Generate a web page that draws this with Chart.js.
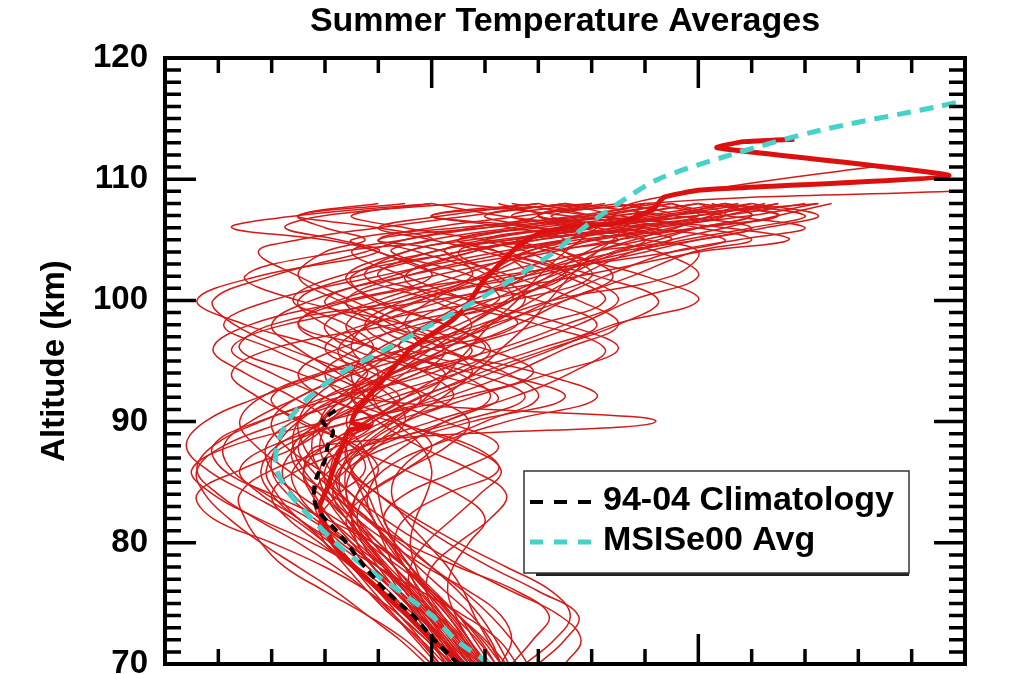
<!DOCTYPE html>
<html>
<head>
<meta charset="utf-8">
<title>Summer Temperature Averages</title>
<script src="https://cdn.jsdelivr.net/npm/chart.js@4.4.1/dist/chart.umd.min.js"></script>
<style>
  html, body { margin: 0; padding: 0; background: #fff; }
  #wrap { width: 1016px; height: 674px; }
</style>
</head>
<body>
<div id="wrap"><canvas id="tempChart"></canvas></div>
<script>
// altitude grid (km) for the individual nightly profiles
const altGrid = [70, 72, 74, 76, 78, 80, 82, 84, 86, 88, 90, 92, 94, 96, 98, 100, 102, 104, 105, 106, 107, 108, 109, 110, 111];

// temperatures (K) of each night, one row per profile
const nightlyTemps = [
  [212, 205, 196, 186, 176, 168, 158, 150, 148, 160, 182, 196, 178, 160, 175, 220, 250, 236, 220, 250, 300, 330],
  [222, 216, 210, 200, 188, 176, 170, 172, 180, 172, 150, 140, 160, 200, 232, 214, 180, 200, 230, 280, 250, 210],
  [205, 196, 185, 176, 168, 160, 150, 136, 128, 140, 170, 210, 238, 220, 180, 160, 190, 240, 270, 240, 200, 260],
  [230, 238, 244, 232, 210, 190, 176, 165, 155, 150, 158, 170, 150, 128, 140, 190, 230, 270, 300, 320, 290, 250],
  [218, 210, 200, 195, 190, 178, 160, 140, 122, 118, 135, 165, 200, 215, 190, 150, 130, 165, 200, 180, 150, 190],
  [210, 200, 192, 184, 172, 155, 135, 118, 110, 125, 160, 190, 205, 180, 150, 170, 225, 290, 310, 280, 240, 280],
  [226, 222, 215, 205, 195, 186, 180, 176, 170, 185, 215, 250, 225, 190, 175, 190, 215, 205, 180, 220, 270, 300],
  [200, 190, 176, 160, 145, 136, 130, 128, 140, 165, 178, 160, 140, 125, 145, 200, 255, 300, 334, 310, 260, 230],
  [215, 212, 206, 198, 192, 185, 175, 162, 150, 148, 160, 180, 210, 240, 262, 240, 205, 180, 170, 210, 260, 290],
  [240, 250, 255, 240, 222, 206, 192, 180, 170, 168, 178, 195, 215, 205, 180, 168, 190, 230, 250, 280, 320, 345],
  [208, 198, 188, 180, 170, 160, 158, 165, 175, 170, 152, 135, 125, 140, 185, 230, 260, 245, 220, 190, 170, 200],
  [214, 207, 200, 192, 186, 182, 178, 170, 158, 145, 140, 150, 172, 200, 215, 200, 175, 190, 215, 250, 290, 270],
  [220, 212, 202, 192, 180, 168, 156, 146, 140, 142, 150, 165, 190, 225, 250, 270, 255, 225, 210, 240, 280, 310],
  [205, 200, 194, 188, 182, 176, 168, 160, 152, 148, 150, 160, 176, 160, 130, 112, 135, 180, 165, 145, 160, 210],
  [232, 225, 212, 196, 180, 166, 158, 156, 162, 175, 200, 230, 252, 265, 240, 205, 190, 215, 240, 270, 310, 340],
  [198, 188, 176, 164, 150, 136, 124, 115, 112, 122, 145, 170, 180, 165, 150, 165, 200, 245, 270, 300, 330, 300],
  [216, 208, 198, 188, 178, 172, 170, 172, 178, 190, 205, 225, 200, 170, 160, 180, 210, 235, 250, 230, 200, 240],
  [224, 218, 210, 200, 190, 180, 172, 164, 158, 152, 150, 156, 170, 190, 218, 245, 290, 300, 280, 255, 230, 260],
  [210, 203, 196, 190, 182, 172, 162, 155, 152, 160, 175, 188, 170, 146, 126, 118, 140, 175, 190, 215, 240, 225],
  [228, 220, 210, 200, 192, 186, 182, 180, 178, 174, 168, 175, 195, 220, 205, 178, 170, 200, 225, 260, 245, 280],
  [212, 206, 198, 190, 180, 168, 154, 138, 125, 122, 132, 150, 168, 185, 198, 215, 240, 280, 300, 325, 345, 320],
  [219, 213, 206, 198, 190, 184, 176, 166, 165, 180, 205, 222, 210, 188, 198, 230, 222, 195, 180, 200, 235, 265],
  [235, 246, 252, 245, 228, 210, 194, 180, 168, 160, 158, 165, 180, 196, 185, 165, 150, 160, 175, 160, 150, 180],
  [206, 198, 188, 176, 160, 140, 118, 112, 128, 150, 160, 148, 130, 118, 132, 168, 200, 180, 160, 125, 150, 200],
  [217, 210, 202, 194, 186, 178, 170, 164, 162, 166, 178, 196, 218, 244, 270, 285, 262, 230, 250, 275, 300, 290],
  [202, 194, 186, 178, 170, 160, 148, 132, 116, 108, 115, 135, 160, 178, 168, 148, 165, 210, 235, 260, 300, 320],
  [221, 214, 207, 199, 190, 180, 170, 162, 160, 168, 186, 208, 198, 178, 168, 185, 220, 260, 290, 270, 240, 260],
  [213, 204, 194, 182, 170, 162, 158, 160, 168, 180, 190, 185, 172, 165, 178, 205, 235, 225, 210, 235, 270, 300],
  [210, 204, 196, 188, 178, 170, 162, 156, 152, 158, 284, 170, 160, 172, 190, 210, 235, 260, 280, 300, 320, 310],
  [250, 256, 248, 230, 212, 196, 182, 170, 162, 158, 162, 172, 186, 200, 214, 228, 244, 258, 270, 290, 310, 330],
  [203, 195, 186, 176, 164, 150, 134, 120, 112, 118, 136, 160, 186, 210, 232, 250, 268, 250, 232, 258, 290, 345],
  [226, 230, 226, 214, 198, 184, 172, 166, 166, 172, 184, 200, 222, 246, 268, 300, 280, 250, 262, 300, 330, 310],
  [216, 209, 201, 193, 184, 176, 168, 158, 146, 134, 128, 136, 158, 190, 222, 250, 275, 298, 320, 300, 270, 250],
  [209, 203, 195, 186, 176, 164, 150, 140, 136, 142, 160, 186, 210, 222, 205, 180, 168, 190, 210, 235, 265, 290],
  [214, 206, 199, 191, 183, 175, 168, 163, 166, 174, 186, 198, 206, 214, 222, 232, 240, 250, 256, 262, 268, 275, 300, 330, 365],
  [219, 211, 203, 195, 186, 178, 172, 168, 170, 178, 190, 204, 216, 226, 236, 244, 252, 262, 268, 272, 276, 280, 395],
  [218, 212, 204, 196, 190, 186, 190, 205, 225, 215, 185, 160, 150, 165, 195, 225, 215, 185, 200, 230, 260, 280],
  [207, 199, 190, 180, 170, 158, 146, 140, 150, 175, 210, 235, 215, 180, 160, 150, 172, 210, 240, 275, 305, 290],
  [224, 217, 208, 199, 190, 183, 178, 176, 182, 200, 228, 262, 240, 200, 180, 195, 235, 275, 295, 320, 340, 310],
  [211, 205, 198, 190, 182, 174, 166, 160, 158, 164, 176, 190, 206, 230, 255, 275, 300, 285, 260, 240, 220, 250],
  [229, 224, 218, 210, 200, 190, 182, 190, 210, 225, 205, 180, 165, 150, 140, 155, 185, 215, 235, 255, 225, 200],
  [203, 196, 188, 180, 172, 162, 150, 142, 138, 145, 170, 205, 230, 250, 270, 255, 230, 205, 220, 250, 285, 315],
  [215, 208, 200, 192, 182, 170, 158, 148, 144, 150, 162, 175, 160, 140, 122, 140, 180, 225, 255, 285, 260, 240],
  [236, 230, 222, 212, 200, 188, 176, 166, 158, 155, 158, 168, 185, 210, 240, 265, 250, 220, 200, 180, 205, 240],
  [208, 201, 194, 187, 180, 174, 170, 168, 168, 175, 190, 215, 245, 270, 250, 215, 190, 170, 190, 220, 255, 285],
  [220, 214, 208, 200, 190, 178, 164, 150, 140, 138, 148, 168, 195, 205, 190, 170, 150, 135, 150, 180, 215, 250],
  [212, 204, 195, 186, 178, 172, 168, 176, 190, 200, 188, 170, 180, 200, 225, 245, 265, 290, 315, 340, 310, 280],
  [226, 219, 210, 201, 192, 184, 178, 174, 170, 168, 170, 178, 190, 205, 222, 238, 255, 275, 290, 310, 330, 350],
  [214, 208, 202, 198, 200, 210, 222, 228, 215, 195, 180, 170, 175, 190, 210, 230, 250, 270, 285, 300, 320, 305],
  [220, 214, 209, 206, 208, 214, 220, 210, 190, 170, 160, 168, 185, 205, 220, 235, 225, 210, 230, 260, 290, 320],
  [209, 202, 196, 192, 192, 198, 208, 218, 226, 212, 188, 175, 170, 180, 200, 222, 245, 268, 280, 262, 240, 270],
  [226, 221, 216, 212, 206, 198, 190, 185, 188, 200, 220, 240, 228, 205, 190, 200, 220, 240, 260, 285, 310, 300],
  [211, 204, 197, 190, 183, 176, 172, 176, 190, 206, 214, 200, 182, 170, 176, 196, 218, 236, 250, 268, 290, 310],
  [216, 210, 204, 198, 194, 192, 194, 198, 200, 196, 186, 178, 182, 196, 214, 230, 248, 262, 276, 292, 305, 325]
];

// summer average of this data set (thick red)
const meanAlt  = [70, 72, 74, 76, 78, 80, 81.5, 83, 84.6, 86, 87.7, 89.3, 89.6, 89.9, 91, 94, 96, 98.4, 99.5, 101.5, 103.1, 104.4, 105.6, 106.1, 106.4, 107.5, 108.5, 109.1, 110.3, 112.6, 113.1, 113.3];
const meanTemp = [212, 200, 191, 181, 171, 163, 160, 158, 161, 163, 166, 169, 177, 170, 172, 184, 192, 208, 213, 219, 226, 232, 241, 253, 270, 283, 287, 301, 394, 307, 317, 336];

// 94-04 Climatology (black dashed)
const climAlt  = [70, 72, 74, 76, 78, 80, 81.3, 82.5, 83.5, 84.6, 85.5, 86.8, 88, 89.2, 90, 91.1];
const climTemp = [210, 201, 193, 183, 175, 168, 163, 158, 156, 156, 157, 160, 161, 163, 159, 165];

// MSISe00 average (cyan dashed)
const msisAlt  = [70, 72, 74, 76, 78, 80, 82, 84, 86, 88, 90, 92, 94, 96, 98, 100, 102, 104, 106, 108, 110, 112, 114, 116, 116.6];
const msisTemp = [222, 209, 200, 188, 175, 164, 155, 147, 142, 142, 146, 154, 166, 183, 200, 217, 232, 246, 257, 270, 285, 312, 345, 390, 402];

const chartTitle = 'Summer Temperature Averages';
const yTitle = 'Altitude (km)';
const FONT = "'Liberation Sans', Arial, Helvetica, sans-serif";

function toPoints(temps, alts) {
    return temps.map((t, i) => ({ x: t, y: alts[i] }));
}

const datasets = [];
datasets.push({
    label: '94-04 Climatology',
    data: toPoints(climTemp, climAlt),
    borderColor: '#000000',
    borderWidth: 4,
    borderDash: [9, 6],
    tension: 0.3,
    order: 0,
    inLegend: true
});
datasets.push({
    label: 'MSISe00 Avg',
    data: toPoints(msisTemp, msisAlt),
    borderColor: '#46d2cb',
    borderWidth: 5,
    borderDash: [14, 9],
    tension: 0.3,
    order: 1,
    inLegend: true
});
datasets.push({
    label: 'Summer average',
    data: toPoints(meanTemp, meanAlt),
    borderColor: '#dd1010',
    borderWidth: 5,
    tension: 0.15,
    order: 2
});
nightlyTemps.forEach((temps, n) => {
    datasets.push({
        label: 'night ' + (n + 1),
        data: toPoints(temps, altGrid),
        borderColor: 'rgb(214, 26, 24)',
        borderWidth: 1.5,
        tension: 0.4,
        order: 3
    });
});
datasets.forEach(d => {
    d.showLine = true;
    d.fill = false;
    d.pointRadius = 0;
    d.pointHoverRadius = 0;
});

// frame with inward ticks on all four sides, plus the title over the plot
const framePlugin = {
    id: 'frame',
    afterDatasetsDraw(chart) {
        const { ctx, chartArea: a, scales: { x, y } } = chart;
        ctx.save();
        ctx.strokeStyle = '#000';
        ctx.lineWidth = 3.5;
        ctx.beginPath();
        for (let t = 120; t < 400; t += 20) {
            const px = x.getPixelForValue(t);
            const len = t % 100 === 0 ? 30 : 15;
            ctx.moveTo(px, a.top); ctx.lineTo(px, a.top + len);
            ctx.moveTo(px, a.bottom); ctx.lineTo(px, a.bottom - len);
        }
        for (let h = 71; h < 120; h++) {
            const py = y.getPixelForValue(h);
            const len = h % 10 === 0 ? 31 : 16;
            ctx.moveTo(a.left, py); ctx.lineTo(a.left + len, py);
            ctx.moveTo(a.right, py); ctx.lineTo(a.right - len, py);
        }
        ctx.stroke();
        ctx.lineWidth = 4;
        ctx.strokeRect(a.left, a.top, a.right - a.left, a.bottom - a.top);

        ctx.fillStyle = '#000';
        ctx.font = 'bold 34px ' + FONT;
        ctx.textAlign = 'center';
        ctx.textBaseline = 'middle';
        ctx.fillText(chartTitle, (a.left + a.right) / 2, 22);
        ctx.restore();
    }
};

// boxed legend inside the plot, lower right
const boxLegend = {
    id: 'boxLegend',
    afterDraw(chart) {
        const { ctx } = chart;
        const items = chart.data.datasets.filter(d => d.inLegend);
        const bx = 524, by = 471, bw = 385, bh = 102;
        ctx.save();
        ctx.fillStyle = '#222';
        ctx.fillRect(bx + 12, by + bh, bw - 12, 3);
        ctx.fillStyle = '#fff';
        ctx.fillRect(bx, by, bw, bh);
        ctx.strokeStyle = '#333';
        ctx.lineWidth = 1.5;
        ctx.strokeRect(bx, by, bw, bh);
        ctx.font = 'bold 34px ' + FONT;
        ctx.textAlign = 'left';
        ctx.textBaseline = 'middle';
        items.forEach((d, i) => {
            const ly = by + 30 + i * 40;
            ctx.strokeStyle = d.borderColor;
            ctx.lineWidth = d.borderWidth;
            ctx.setLineDash([13, 11]);
            ctx.beginPath();
            ctx.moveTo(bx + 6, ly + 1);
            ctx.lineTo(bx + 74, ly + 1);
            ctx.stroke();
            ctx.setLineDash([]);
            ctx.fillStyle = '#000';
            ctx.fillText(d.label, bx + 79, ly);
        });
        ctx.restore();
    }
};

const ctx = document.getElementById('tempChart').getContext('2d');
const tempChart = new Chart(ctx, {
    type: 'scatter',
    data: { datasets: datasets },
    options: {
        responsive: true,
        maintainAspectRatio: false,
        animation: false,
        events: [],
        layout: { padding: { top: 58, right: 51, bottom: 10, left: 0 } },
        plugins: {
            legend: { display: false },
            title: { display: false },
            tooltip: { enabled: false }
        },
        scales: {
            x: {
                type: 'linear',
                min: 100,
                max: 400,
                display: false
            },
            y: {
                type: 'linear',
                min: 70,
                max: 120,
                grid: { display: false, drawTicks: false },
                border: { display: false },
                ticks: {
                    stepSize: 10,
                    padding: 17,
                    color: '#000',
                    font: { family: FONT, size: 33, weight: 'bold' }
                },
                title: {
                    display: true,
                    text: yTitle,
                    color: '#000',
                    padding: { top: 35, bottom: 0 },
                    font: { family: FONT, size: 33, weight: 'bold' }
                },
                afterFit: s => {
                    s.width = 165;
                    // let the end labels hang over the frame like the original
                    s.paddingTop = 0;
                    s.paddingBottom = 0;
                }
            }
        }
    },
    plugins: [framePlugin, boxLegend]
});
</script>
</body>
</html>
